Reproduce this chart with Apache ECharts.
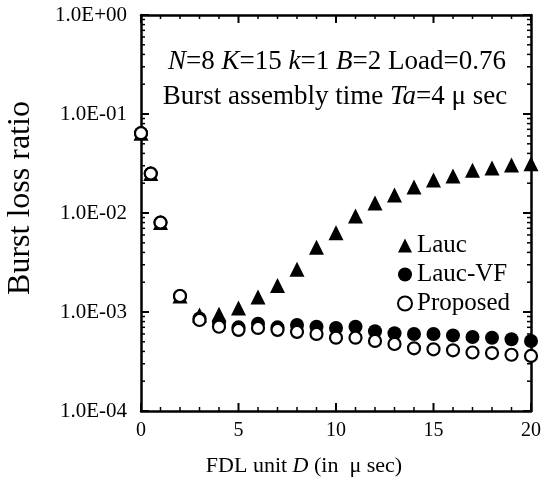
<!DOCTYPE html>
<html>
<head>
<meta charset="utf-8">
<script src="https://cdn.jsdelivr.net/npm/echarts@6/dist/echarts.min.js"></script>
<style>
  html, body { margin: 0; padding: 0; background: #fff; }
  #chart { width: 544px; height: 482px; }
</style>
</head>
<body>
<div id="chart"></div>
<script>
// FDL unit D (µsec)
const fdlUnits = [0, 0.5, 1, 2, 3, 4, 5, 6, 7, 8, 9, 10, 11, 12, 13, 14, 15, 16, 17, 18, 19, 20]

// burst loss ratio per scheme
const laucLoss = [6.4e-2, 2.5e-2, 8.0e-3, 1.45e-3, 9.3e-4, 9.5e-4, 1.1e-3, 1.42e-3, 1.85e-3, 2.7e-3, 4.5e-3,
  6.3e-3, 9.3e-3, 1.26e-2, 1.52e-2, 1.83e-2, 2.15e-2, 2.37e-2, 2.7e-2, 2.85e-2, 3.05e-2, 3.15e-2]
const laucVfLoss = [6.4e-2, 2.5e-2, 8.0e-3, 1.45e-3, 8.6e-4, 7.8e-4, 7.0e-4, 7.6e-4, 7.0e-4, 7.4e-4, 7.1e-4,
  6.9e-4, 7.1e-4, 6.4e-4, 6.1e-4, 6.0e-4, 6.0e-4, 5.8e-4, 5.6e-4, 5.5e-4, 5.3e-4, 5.1e-4]
const proposedLoss = [6.4e-2, 2.5e-2, 8.0e-3, 1.45e-3, 8.3e-4, 7.1e-4, 6.6e-4, 6.9e-4, 6.6e-4, 6.3e-4, 6.0e-4,
  5.5e-4, 5.5e-4, 5.1e-4, 4.75e-4, 4.3e-4, 4.2e-4, 4.1e-4, 3.9e-4, 3.85e-4, 3.7e-4, 3.6e-4]

const seriesNames = ['Lauc', 'Lauc-VF', 'Proposed']

// tick values (drawn inside the frame on all four sides)
const xMajorTicks = [0, 5, 10, 15, 20]
const xMinorTicks = [1, 2, 3, 4, 6, 7, 8, 9, 11, 12, 13, 14, 16, 17, 18, 19]
const yMajorTicks = [1e-4, 1e-3, 1e-2, 1e-1, 1]
const yMinorTicks = [
  2e-4, 3e-4, 4e-4, 5e-4, 6e-4, 7e-4, 8e-4, 9e-4,
  2e-3, 3e-3, 4e-3, 5e-3, 6e-3, 7e-3, 8e-3, 9e-3,
  2e-2, 3e-2, 4e-2, 5e-2, 6e-2, 7e-2, 8e-2, 9e-2,
  2e-1, 3e-1, 4e-1, 5e-1, 6e-1, 7e-1, 8e-1, 9e-1
]

const X_MIN = 0, X_MAX = 20, Y_MIN = 1e-4, Y_MAX = 1
const serif = 'Liberation Serif'

const expLabel = (v) => {
  const e = Math.round(Math.log10(v))
  return '1.0E' + (e < 0 ? '-' : '+') + String(Math.abs(e)).padStart(2, '0')
}

const pairs = (ys) => fdlUnits.map((d, i) => [d, ys[i]])

// [x, y, dx, dy, width]
const tickSegments = []
const addX = (vals, len, w) => vals.forEach(v => {
  tickSegments.push([v, Y_MIN, 0, -len, w])
  tickSegments.push([v, Y_MAX, 0, len, w])
})
const addY = (vals, len, w) => vals.forEach(v => {
  tickSegments.push([X_MIN, v, len, 0, w])
  tickSegments.push([X_MAX, v, -len, 0, w])
})
addX(xMajorTicks, 8, 2)
addX(xMinorTicks, 4, 1.5)
addY(yMajorTicks, 8, 2)
addY(yMinorTicks, 4, 1.5)

const chart = echarts.init(document.getElementById('chart'))

const axisLine = { show: true, onZero: false, lineStyle: { color: '#000', width: 2.5 } }

const xBase = {
  type: 'value', min: X_MIN, max: X_MAX, interval: 5,
  axisLine, axisTick: { show: false }, splitLine: { show: false }
}
const yBase = {
  type: 'log', logBase: 10, min: Y_MIN, max: Y_MAX,
  axisLine, axisTick: { show: false }, splitLine: { show: false }
}

const italic = { fontStyle: 'italic', fontFamily: serif, fontSize: 27, color: '#000' }

const option = {
  animation: false,
  grid: { left: 141, right: 10, top: 15, bottom: 71 },
  xAxis: [
    {
      ...xBase,
      position: 'bottom',
      axisLabel: { color: '#000', fontFamily: serif, fontSize: 20, margin: 10 },
      name: 'FDL unit {it|D} (in  μ sec)',
      nameLocation: 'middle',
      nameGap: 44,
      nameTextStyle: {
        color: '#000', fontFamily: serif, fontSize: 22, padding: [0, 64, 0, 0],
        rich: { it: { fontFamily: serif, fontSize: 22, fontStyle: 'italic', color: '#000' } }
      }
    },
    { ...xBase, position: 'top', axisLabel: { show: false } }
  ],
  yAxis: [
    {
      ...yBase,
      position: 'left',
      axisLabel: { color: '#000', fontFamily: serif, fontSize: 21, margin: 14, formatter: expLabel }
    },
    { ...yBase, position: 'right', axisLabel: { show: false } }
  ],
  legend: {
    orient: 'vertical',
    left: 392,
    top: 228,
    itemWidth: 14,
    itemHeight: 14,
    itemGap: 4,
    textStyle: { color: '#000', fontFamily: serif, fontSize: 25 },
    data: seriesNames
  },
  graphic: [
    {
      type: 'text', x: 21, y: 198, rotation: Math.PI / 2,
      style: {
        text: 'Burst loss ratio', fill: '#000', fontFamily: serif, fontSize: 32,
        align: 'center', verticalAlign: 'middle'
      }
    },
    {
      type: 'text', x: 337, y: 62,
      style: {
        text: '{i|N}=8 {i|K}=15 {i|k}=1 {i|B}=2 Load=0.76', fill: '#000',
        fontFamily: serif, fontSize: 27, align: 'center', verticalAlign: 'middle',
        rich: { i: italic }
      }
    },
    {
      type: 'text', x: 335, y: 97,
      style: {
        text: 'Burst assembly time {i|Ta}=4 μ sec', fill: '#000',
        fontFamily: serif, fontSize: 27, align: 'center', verticalAlign: 'middle',
        rich: { i: italic }
      }
    }
  ],
  series: [
    {
      name: 'ticks',
      type: 'custom',
      silent: true,
      clip: false,
      z: 1,
      encode: { x: 0, y: 1 },
      renderItem: (params, api) => {
        const p = api.coord([api.value(0), api.value(1)])
        return {
          type: 'line',
          shape: { x1: p[0], y1: p[1], x2: p[0] + api.value(2), y2: p[1] + api.value(3) },
          style: { stroke: '#000', lineWidth: api.value(4) }
        }
      },
      data: tickSegments
    },
    {
      name: 'Lauc',
      type: 'scatter',
      symbol: 'triangle',
      symbolSize: 15,
      itemStyle: { color: '#000', opacity: 1 },
      data: pairs(laucLoss)
    },
    {
      name: 'Lauc-VF',
      type: 'scatter',
      symbol: 'circle',
      symbolSize: 14,
      itemStyle: { color: '#000', opacity: 1 },
      data: pairs(laucVfLoss)
    },
    {
      name: 'Proposed',
      type: 'scatter',
      symbol: 'circle',
      symbolSize: 12,
      itemStyle: { color: '#fff', borderColor: '#000', borderWidth: 2.2, opacity: 1 },
      data: pairs(proposedLoss)
    }
  ]
}

chart.setOption(option)

// redraw once fonts are confirmed, in case the first pass used a fallback face
if (document.fonts && document.fonts.load) {
  document.fonts.load('20px "Liberation Serif"').then(() => {
    chart.clear()
    chart.setOption(option)
  })
}
</script>
</body>
</html>
